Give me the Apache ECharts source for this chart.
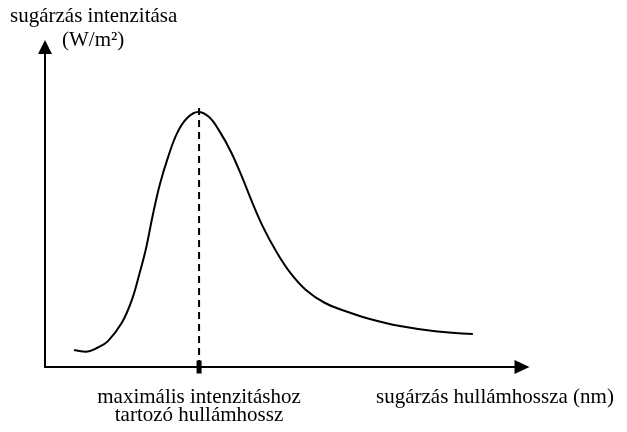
<!DOCTYPE html>
<html>
<head>
<meta charset="utf-8">
<script src="https://cdn.jsdelivr.net/npm/echarts@6/dist/echarts.min.js"></script>
<style>html,body{margin:0;padding:0;background:#fff}#c{width:627px;height:432px}</style>
</head>
<body>
<div id="c"></div>
<script>
// Wavelength (arbitrary units along the x axis)
var wavelength = [6.1, 8.6, 11.1, 13.2, 16.1, 18.2, 19.9, 21.2, 22.6, 24.1, 25.8, 27.7, 29.8, 32.1, 34.4, 36.7, 39.0, 41.3, 43.4, 45.7, 48.4, 51.4, 54.7, 58.7, 62.9, 68.1, 74.4, 81.8, 89.7];
// Radiation intensity (arbitrary units)
var intensity = [5.3, 4.8, 6.1, 8.1, 13.8, 20.9, 29.7, 37.2, 47.5, 57.2, 65.6, 73.1, 77.8, 79.7, 78.1, 73.4, 67.2, 59.4, 51.6, 43.8, 36.3, 29.5, 24.1, 20.0, 17.5, 15.0, 12.8, 11.2, 10.3];
// Wavelength of maximum intensity and top of the dashed marker
var peakWavelength = [32.3];
var peakMarkerTop = [81.3];
// Texts
var yAxisTitle = ['sugárzás intenzitása', '(W/m²)'];
var xAxisTitle = 'sugárzás hullámhossza (nm)';
var peakLabel = ['maximális intenzitáshoz', 'tartozó hullámhossz'];

var curve = wavelength.map(function (x, i) { return [x, intensity[i]]; });
var dashed = [[peakWavelength[0], 0], [peakWavelength[0], peakMarkerTop[0]]];

var ff = 'Liberation Serif';
var fs = 21;
function txt(s, extra) {
  var st = {text: s, fontFamily: ff, fontSize: fs, fill: '#000'};
  for (var k in extra) st[k] = extra[k];
  return st;
}

var chart = echarts.init(document.getElementById('c'));
chart.setOption({
  animation: false,
  backgroundColor: '#fff',
  grid: {left: 45, right: 105, top: 47, bottom: 65, containLabel: false},
  xAxis: {
    type: 'value', min: 0, max: 100,
    axisLine: {show: true, lineStyle: {color: '#000', width: 2}, symbol: ['none', 'triangle'], symbolSize: [14, 15]},
    axisTick: {show: false}, axisLabel: {show: false}, splitLine: {show: false}
  },
  yAxis: {
    type: 'value', min: 0, max: 100,
    axisLine: {show: true, onZero: false, lineStyle: {color: '#000', width: 2}, symbol: ['none', 'triangle'], symbolSize: [14, 14]},
    axisTick: {show: false}, axisLabel: {show: false}, splitLine: {show: false}
  },
  series: [
    {
      type: 'line', data: curve, smooth: 0.4, showSymbol: false,
      lineStyle: {color: '#000', width: 2}
    },
    {
      type: 'line', data: dashed, showSymbol: false,
      lineStyle: {color: '#000', width: 2, type: [7, 5]},
      markPoint: {
        symbol: 'rect', symbolSize: [5, 13],
        itemStyle: {color: '#000'},
        label: {show: false},
        data: [{coord: [peakWavelength[0], 0]}]
      }
    }
  ],
  graphic: [
    {type: 'text', x: 10, y: 16, style: txt(yAxisTitle[0], {verticalAlign: 'middle'})},
    {type: 'text', x: 62, y: 40, style: txt(yAxisTitle[1], {verticalAlign: 'middle'})},
    {type: 'text', x: 376, y: 397, style: txt(xAxisTitle, {verticalAlign: 'middle'})},
    {type: 'text', x: 199, y: 397, style: txt(peakLabel[0], {align: 'center', verticalAlign: 'middle'})},
    {type: 'text', x: 199, y: 415, style: txt(peakLabel[1], {align: 'center', verticalAlign: 'middle'})}
  ]
});
</script>
</body>
</html>
